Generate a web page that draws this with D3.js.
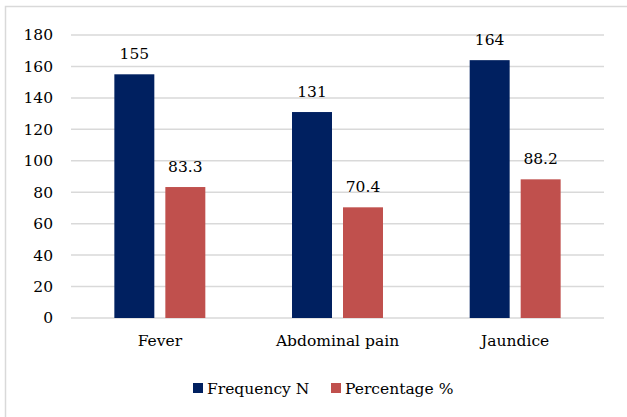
<!DOCTYPE html>
<html lang="en">
<head>
    <meta charset="UTF-8">
    <script src="https://d3js.org/d3.v7.min.js"></script>
    <style>
        body { margin: 0; background: white; }
        text { font-family: "DejaVu Serif", serif; fill: #000; }
    </style>
</head>
<body>
    <div id="chart"></div>
    <script>
        // Data
        const categories = ["Fever", "Abdominal pain", "Jaundice"];
        const seriesNames = ["Frequency N", "Percentage %"];
        const frequency = [155, 131, 164];
        const percentage = [83.3, 70.4, 88.2];
        const yTicks = [0, 20, 40, 60, 80, 100, 120, 140, 160, 180];
        const colors = ["#002060", "#C0504D"];

        const width = 627;
        const height = 417;
        const plot = { left: 71, right: 604, top: 35, bottom: 318 };
        const fontSize = 15.5;

        const svg = d3.select("#chart")
            .append("svg")
            .attr("width", width)
            .attr("height", height);

        // Chart border
        svg.append("rect")
            .attr("x", 5.5)
            .attr("y", 6.5)
            .attr("width", width + 10)
            .attr("height", height + 10)
            .attr("fill", "white")
            .attr("stroke", "#d9d9d9")
            .attr("stroke-width", 1.5);

        // Scales
        const x0 = d3.scaleBand()
            .domain(categories)
            .range([plot.left, plot.right]);

        const x1 = d3.scaleBand()
            .domain(seriesNames)
            .range([0, x0.bandwidth()])
            .paddingInner(0.216)
            .paddingOuter(0.85);

        const y = d3.scaleLinear()
            .domain([0, 180])
            .range([plot.bottom, plot.top]);

        // Gridlines
        svg.append("g")
            .selectAll("line")
            .data(yTicks)
            .join("line")
            .attr("x1", plot.left)
            .attr("x2", plot.right)
            .attr("y1", d => y(d))
            .attr("y2", d => y(d))
            .attr("stroke", "#d9d9d9")
            .attr("stroke-width", 1.5);

        // Y axis labels
        const yAxis = svg.append("g")
            .attr("transform", `translate(${plot.left - 18},0)`)
            .call(d3.axisLeft(y).tickValues(yTicks).tickSize(0).tickPadding(0));
        yAxis.select(".domain").remove();
        yAxis.selectAll("text")
            .attr("font-size", fontSize)
            .attr("font-family", "DejaVu Serif")
            .attr("fill", "#000");

        // X axis labels
        const xAxis = svg.append("g")
            .attr("transform", `translate(0,${plot.bottom})`)
            .call(d3.axisBottom(x0).tickSize(0).tickPadding(17));
        xAxis.select(".domain").remove();
        xAxis.selectAll("text")
            .attr("font-size", fontSize)
            .attr("font-family", "DejaVu Serif")
            .attr("fill", "#000");

        // Bars
        const rows = categories.map((c, i) => ({
            category: c,
            values: [
                { key: seriesNames[0], value: frequency[i], color: colors[0] },
                { key: seriesNames[1], value: percentage[i], color: colors[1] }
            ]
        }));

        const groups = svg.append("g")
            .selectAll("g")
            .data(rows)
            .join("g")
            .attr("transform", d => `translate(${x0(d.category)},0)`);

        groups.selectAll("rect")
            .data(d => d.values)
            .join("rect")
            .attr("x", d => x1(d.key))
            .attr("y", d => y(d.value))
            .attr("width", x1.bandwidth())
            .attr("height", d => y(0) - y(d.value))
            .attr("fill", d => d.color);

        groups.selectAll("text")
            .data(d => d.values)
            .join("text")
            .attr("x", d => x1(d.key) + x1.bandwidth() / 2)
            .attr("y", d => y(d.value) - 15)
            .attr("text-anchor", "middle")
            .attr("font-size", fontSize)
            .text(d => d.value);

        // Legend
        const legendX = [193, 331];
        const legend = svg.append("g")
            .selectAll("g")
            .data(seriesNames)
            .join("g")
            .attr("transform", (d, i) => `translate(${legendX[i]}, 383)`);

        legend.append("rect")
            .attr("width", 10)
            .attr("height", 10)
            .attr("fill", (d, i) => colors[i]);

        legend.append("text")
            .attr("x", 14)
            .attr("y", 11)
            .attr("font-size", fontSize)
            .text(d => d);
    </script>
</body>
</html>
